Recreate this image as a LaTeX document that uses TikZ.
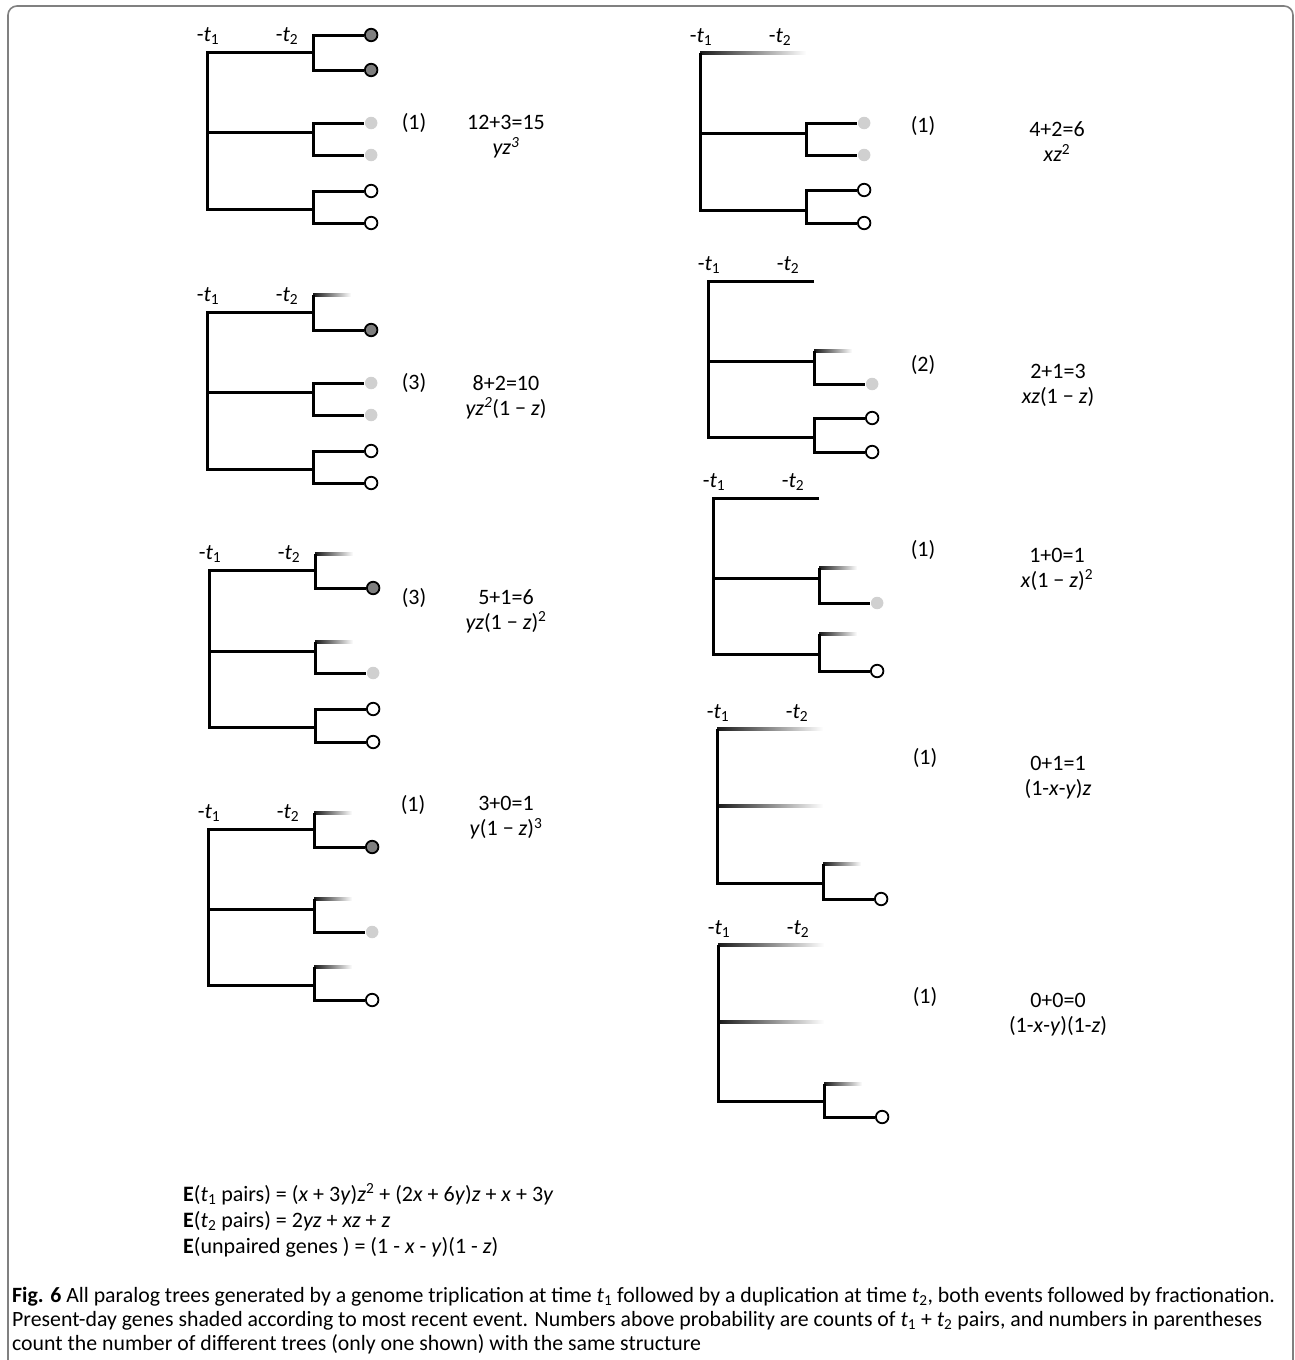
\documentclass[tikz,border=0pt]{standalone}
\usepackage{fontspec}
\setmainfont{Carlito}
\usetikzlibrary{calc}
\definecolor{rimGray}{HTML}{808080}
\definecolor{dotDark}{HTML}{7F7F7F}
\definecolor{dotLight}{HTML}{D0D0D0}
\tikzset{
  every node/.style={font=\fontsize{22}{25}\selectfont, inner sep=0pt},
  branch/.style={line width=3pt},
  rim/.style={draw=rimGray, line width=1.6pt, rounded corners=9pt},
  leaf/.style={circle, minimum size=12.5pt, inner sep=0pt, anchor=west, xshift=51pt, line width=1.8pt},
  leafDark/.style={leaf, draw, fill=dotDark},
  leafLight/.style={leaf, fill=dotLight},
  leafOpen/.style={leaf, draw, fill=white},
  leafLost/.style={rectangle, inner sep=0pt, minimum width=38pt, minimum height=3pt, anchor=west,
                   left color=black!90, right color=white},
  branchLost/.style={leafLost, minimum width=106pt},
  probLab/.style={align=center},
  eqLine/.style={anchor=base west},
  capLine/.style={anchor=base west, font=\fontsize{21.8}{24}\selectfont},
}
% #1 joint, #2 its height, #3/#4 heights of the two leaves, #5/#6 their styles
\newcommand{\cherry}[6]{%
  \coordinate (#1) at (106,#2);
  \node[#5] (#1u) at (106,#3) {};
  \node[#6] (#1l) at (106,#4) {};
  \draw[branch] (#1u) -| (#1) |- (#1l);
}
\newcommand{\treeroot}[1]{%
  \coordinate (#1r) at (0,0);
  \node (#1t1) at (1,-16) {-\textit{t}\textsubscript{1}};
  \node (#1t2) at (80,-16) {-\textit{t}\textsubscript{2}};
}

\begin{document}
\begin{tikzpicture}[x=1pt, y=-1pt]
  \useasboundingbox (0,0) rectangle (1295,1360);
  \draw[rim] (8,1360) -- (8,6) -- (1293,6) -- (1293,1360);
  % left column
  \begin{scope}[shift={(207,52)}]
    \treeroot{L1}
    \cherry{L1a}{0}{-17}{18}{leafDark}{leafDark}
    \cherry{L1b}{80}{71}{103}{leafLight}{leafLight}
    \cherry{L1c}{157}{139}{171}{leafOpen}{leafOpen}
    \draw[branch] (L1a) -| (L1r) |- (L1c);
    \draw[branch] (L1r |- L1b) -- (L1b);
  \end{scope}
  \begin{scope}[shift={(207,312)}]
    \treeroot{L2}
    \cherry{L2a}{0}{-17}{18}{leafLost}{leafDark}
    \cherry{L2b}{80}{71}{103}{leafLight}{leafLight}
    \cherry{L2c}{157}{139}{171}{leafOpen}{leafOpen}
    \draw[branch] (L2a) -| (L2r) |- (L2c);
    \draw[branch] (L2r |- L2b) -- (L2b);
  \end{scope}
  \begin{scope}[shift={(209,570)}]
    \treeroot{L3}
    \cherry{L3a}{0}{-16}{18}{leafLost}{leafDark}
    \cherry{L3b}{81}{72}{103}{leafLost}{leafLight}
    \cherry{L3c}{157}{139}{172}{leafOpen}{leafOpen}
    \draw[branch] (L3a) -| (L3r) |- (L3c);
    \draw[branch] (L3r |- L3b) -- (L3b);
  \end{scope}
  \begin{scope}[shift={(208,829)}]
    \treeroot{L4}
    \cherry{L4a}{0}{-16}{18}{leafLost}{leafDark}
    \cherry{L4b}{80}{70}{103}{leafLost}{leafLight}
    \cherry{L4c}{156}{138}{171}{leafLost}{leafOpen}
    \draw[branch] (L4a) -| (L4r) |- (L4c);
    \draw[branch] (L4r |- L4b) -- (L4b);
  \end{scope}
  % right column
  \begin{scope}[shift={(700,53)}]
    \treeroot{R1}
    \node[branchLost] (R1a) at (0,0) {};
    \cherry{R1b}{80}{70}{102}{leafLight}{leafLight}
    \cherry{R1c}{157}{137}{170}{leafOpen}{leafOpen}
    \draw[branch] (R1a) -| (R1r) |- (R1c);
    \draw[branch] (R1r |- R1b) -- (R1b);
  \end{scope}
  \begin{scope}[shift={(708,281)}]
    \treeroot{R2}
    \coordinate (R2a) at (106,0);
    \cherry{R2b}{80}{70}{103}{leafLost}{leafLight}
    \cherry{R2c}{156}{137}{171}{leafOpen}{leafOpen}
    \draw[branch] (R2a) -| (R2r) |- (R2c);
    \draw[branch] (R2r |- R2b) -- (R2b);
  \end{scope}
  \begin{scope}[shift={(713,498)}]
    \treeroot{R3}
    \coordinate (R3a) at (106,0);
    \cherry{R3b}{80}{70}{105}{leafLost}{leafLight}
    \cherry{R3c}{156}{136}{173}{leafLost}{leafOpen}
    \draw[branch] (R3a) -| (R3r) |- (R3c);
    \draw[branch] (R3r |- R3b) -- (R3b);
  \end{scope}
  \begin{scope}[shift={(717,729)}]
    \treeroot{R4}
    \node[branchLost] (R4a) at (0,0) {};
    \node[branchLost] (R4b) at (0,77) {};
    \cherry{R4c}{154}{135}{170}{leafLost}{leafOpen}
    \draw[branch] (R4a) -| (R4r) |- (R4c);
  \end{scope}
  \begin{scope}[shift={(718,945)}]
    \treeroot{R5}
    \node[branchLost] (R5a) at (0,0) {};
    \node[branchLost] (R5b) at (0,77) {};
    \cherry{R5c}{156}{139}{172}{leafLost}{leafOpen}
    \draw[branch] (R5a) -| (R5r) |- (R5c);
  \end{scope}
  % counts and probabilities
  \node (L1n) at (414,123) {(1)};
  \node[probLab] (L1p) at (506,137) {12+3=15\\\textit{yz\textsuperscript{3}}};
  \node (L2n) at (414,383) {(3)};
  \node[probLab] (L2p) at (506,397) {8+2=10\\\textit{yz\textsuperscript{2}}(1 − \textit{z})};
  \node (L3n) at (414,598) {(3)};
  \node[probLab] (L3p) at (506,611) {5+1=6\\\textit{yz}(1 − \textit{z})\textsuperscript{2}};
  \node (L4n) at (413,805) {(1)};
  \node[probLab] (L4p) at (506,818) {3+0=1\\\textit{y}(1 − \textit{z})\textsuperscript{3}};
  \node (R1n) at (923,126) {(1)};
  \node[probLab] (R1p) at (1057,142) {4+2=6\\\textit{xz}\textsuperscript{2}};
  \node (R2n) at (923,365) {(2)};
  \node[probLab] (R2p) at (1058,385) {2+1=3\\\textit{xz}(1 − \textit{z})};
  \node (R3n) at (923,550) {(1)};
  \node[probLab] (R3p) at (1057,569) {1+0=1\\\textit{x}(1 − \textit{z})\textsuperscript{2}};
  \node (R4n) at (925,758) {(1)};
  \node[probLab] (R4p) at (1058,778) {0+1=1\\(1-\textit{x}-\textit{y})\textit{z}};
  \node (R5n) at (925,997) {(1)};
  \node[probLab] (R5p) at (1058,1015) {0+0=0\\(1-\textit{x}-\textit{y})(1-\textit{z})};
  % expectations
  \node[eqLine] (eq1) at (183,1201) {\textbf{E}(\textit{t}\textsubscript{1} pairs) = (\textit{x} + 3\textit{y})\textit{z}\textsuperscript{2} + (2\textit{x} + 6\textit{y})\textit{z} + \textit{x} + 3\textit{y}};
  \node[eqLine] (eq2) at (183,1227) {\textbf{E}(\textit{t}\textsubscript{2} pairs) = 2\textit{yz} + \textit{xz} + \textit{z}};
  \node[eqLine] (eq3) at (183,1253) {\textbf{E}(unpaired genes ) = (1 - \textit{x} - \textit{y})(1 - \textit{z})};
  % caption
  \node[capLine] (cap1) at (12,1302) {\textbf{Fig. 6} All paralog trees generated by a genome triplication at time \textit{t}\textsubscript{1} followed by a duplication at time \textit{t}\textsubscript{2}, both events followed by fractionation.};
  \node[capLine] (cap2) at (12,1326) {Present-day genes shaded according to most recent event. Numbers above probability are counts of \textit{t}\textsubscript{1} + \textit{t}\textsubscript{2} pairs, and numbers in parentheses};
  \node[capLine] (cap3) at (12,1350) {count the number of different trees (only one shown) with the same structure};
\end{tikzpicture}
\end{document}
